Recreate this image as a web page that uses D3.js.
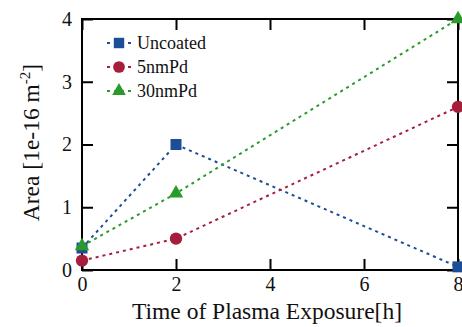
<!DOCTYPE html>
<html>
<head>
<meta charset="utf-8">
<script src="https://cdn.jsdelivr.net/npm/d3@7"></script>
<style>
  body { margin: 0; background: #fff; }
</style>
</head>
<body>
<div id="chart-area"></div>
<script>
// data
var hours = [0, 2, 8];
var uncoated = [0.35, 2.0, 0.05];
var pd5 = [0.15, 0.5, 2.6];
var pd30 = [0.38, 1.22, 4.0];
var seriesNames = ["Uncoated", "5nmPd", "30nmPd"];
var seriesColors = ["#1c4e97", "#a61e3c", "#2a9b2a"];
var xTicks = [0, 2, 4, 6, 8];
var yTicks = [0, 1, 2, 3, 4];

var margins = { left: 82, right: 4, top: 19, bottom: 57 };
var W = 462, H = 327;
var width = W - margins.left - margins.right;
var height = H - margins.top - margins.bottom;
var serif = "Liberation Serif";

var svg = d3.select("#chart-area").append("svg")
    .attr("width", W).attr("height", H)
    .attr("font-family", serif);
var g = svg.append("g")
    .attr("transform", "translate(" + margins.left + "," + margins.top + ")");

var x = d3.scaleLinear().domain([0, 8]).range([0, width]);
var y = d3.scaleLinear().domain([0, 4]).range([height, 0]);
var fmt = d3.format("d");

// axes with inward ticks on all four sides
var tick = 11;
g.append("g").attr("transform", "translate(0," + height + ")")
    .call(d3.axisBottom(x).tickValues(xTicks).tickFormat(fmt).tickSizeInner(-tick).tickSizeOuter(0).tickPadding(7))
    .call(function(a){ a.select(".domain").remove(); });
g.append("g")
    .call(d3.axisTop(x).tickValues(xTicks).tickSizeInner(-tick).tickSizeOuter(0).tickFormat(""))
    .call(function(a){ a.select(".domain").remove(); });
g.append("g")
    .call(d3.axisLeft(y).tickValues(yTicks).tickFormat(fmt).tickSizeInner(-tick).tickSizeOuter(0).tickPadding(10))
    .call(function(a){ a.select(".domain").remove(); });
g.append("g").attr("transform", "translate(" + width + ",0)")
    .call(d3.axisRight(y).tickValues(yTicks).tickSizeInner(-tick).tickSizeOuter(0).tickFormat(""))
    .call(function(a){ a.select(".domain").remove(); });
g.selectAll(".tick line").attr("stroke", "#000").attr("stroke-width", 2);
// d3 puts sans-serif on each axis group, override it
g.selectAll(".tick text")
    .attr("font-family", serif).attr("font-size", 20).attr("fill", "#111");

g.append("rect")
    .attr("width", width).attr("height", height)
    .attr("fill", "none").attr("stroke", "#000").attr("stroke-width", 2);

// series
var allSeries = [uncoated, pd5, pd30];
var symbols = [d3.symbolSquare, d3.symbolCircle, d3.symbolTriangle];
var symSizes = [121, 120, 90];

var line = d3.line()
    .x(function(d, i){ return x(hours[i]); })
    .y(function(d){ return y(d); });

allSeries.forEach(function(vals, s){
    g.append("path")
        .datum(vals)
        .attr("d", line)
        .attr("fill", "none")
        .attr("stroke", seriesColors[s])
        .attr("stroke-width", 2)
        .attr("stroke-dasharray", "3,4");
});
allSeries.forEach(function(vals, s){
    g.selectAll(".m" + s)
        .data(vals)
        .enter().append("path")
        .attr("transform", function(d, i){ return "translate(" + x(hours[i]) + "," + y(d) + ")"; })
        .attr("d", d3.symbol().type(symbols[s]).size(symSizes[s]))
        .attr("fill", seriesColors[s]);
});

// legend
var legend = svg.append("g").attr("transform", "translate(107,43)");
seriesNames.forEach(function(name, s){
    var row = legend.append("g").attr("transform", "translate(0," + (s * 24) + ")");
    row.append("line").attr("x1", 0).attr("x2", 24).attr("y1", 0).attr("y2", 0)
        .attr("stroke", seriesColors[s]).attr("stroke-width", 2).attr("stroke-dasharray", "3,4");
    row.append("path").attr("transform", "translate(12,0)")
        .attr("d", d3.symbol().type(symbols[s]).size(symSizes[s] * 0.9))
        .attr("fill", seriesColors[s]);
    row.append("text").attr("x", 30).attr("y", 0).attr("dy", "0.35em")
        .attr("font-family", serif).attr("font-size", 18).attr("fill", "#111").text(name);
});

// axis titles
svg.append("text")
    .attr("x", margins.left + width / 2 - 3).attr("y", 319)
    .attr("text-anchor", "middle").attr("font-family", serif).attr("font-size", 23.5)
    .attr("fill", "#111")
    .text("Time of Plasma Exposure[h]");

var yl = svg.append("text")
    .attr("transform", "translate(39," + (margins.top + height / 2 - 2) + ") rotate(-90)")
    .attr("text-anchor", "middle").attr("font-family", serif).attr("font-size", 23.5)
    .attr("fill", "#111");
yl.append("tspan").text("Area [1e-16 m");
yl.append("tspan").attr("font-size", 15).attr("dy", -9).text("-2");
yl.append("tspan").attr("dy", 9).text("]");
</script>
</body>
</html>
